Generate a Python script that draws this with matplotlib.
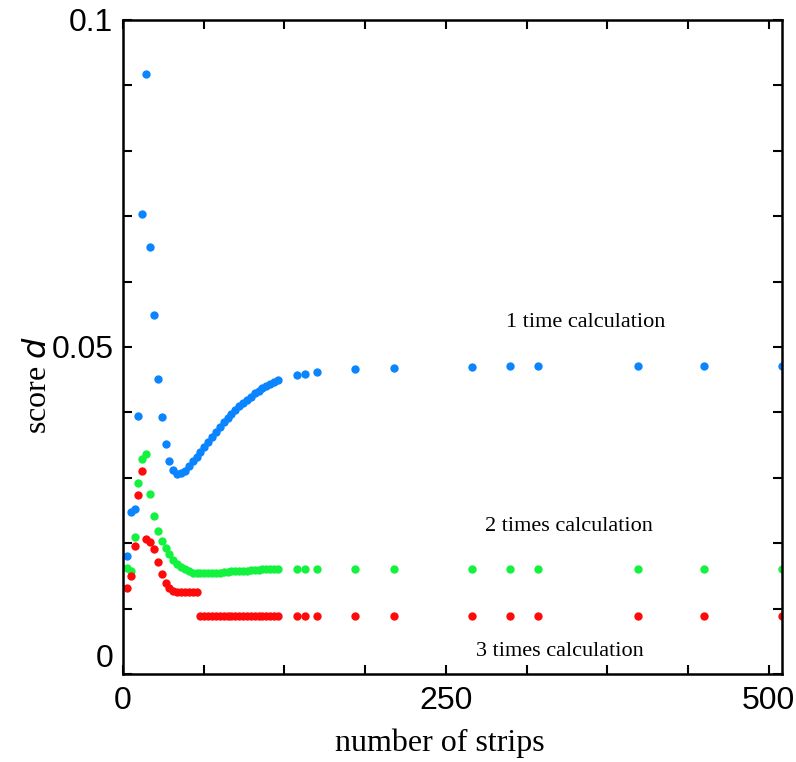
import numpy as np
import matplotlib.pyplot as plt
from matplotlib.ticker import MultipleLocator, FixedLocator

# number of strips (same grid for all three runs)
strips = [3, 6, 9, 12, 15, 18, 21, 24, 27, 30, 33, 36, 39, 42, 45, 48, 51, 54, 57,
          60, 63, 66, 69, 72, 75, 78, 81, 84, 87, 90, 93, 96, 99, 102, 105, 108,
          111, 114, 117, 120, 135, 141, 150, 180, 210, 270, 300, 321, 399, 450, 510]

# score d, 1 time calculation
d_once = [0.0180, 0.0248, 0.0252, 0.0394, 0.0704, 0.0917, 0.0653, 0.0549, 0.0451,
          0.0393, 0.0351, 0.0326, 0.0312, 0.0306, 0.0307, 0.0311, 0.0318, 0.0325,
          0.0332, 0.0339, 0.0347, 0.0355, 0.0363, 0.0370, 0.0378, 0.0385, 0.0392,
          0.0398, 0.0404, 0.0410, 0.0415, 0.0419, 0.0424, 0.0429, 0.0433, 0.0437,
          0.0441, 0.0444, 0.0447, 0.0450, 0.0457, 0.0459, 0.0462, 0.0466, 0.0468,
          0.0470, 0.0471, 0.0471, 0.0471, 0.0471, 0.0471]

# score d, 2 times calculation
d_twice = [0.0162, 0.0158, 0.0210, 0.0292, 0.0328, 0.0337, 0.0275, 0.0241, 0.0219,
           0.0203, 0.0192, 0.0183, 0.0175, 0.0168, 0.0163, 0.0160, 0.0157, 0.0155,
           0.0154, 0.0154, 0.0154, 0.0154, 0.0154, 0.0155, 0.0155, 0.0156, 0.0156,
           0.0157, 0.0157, 0.0158, 0.0158, 0.0158, 0.0159, 0.0159, 0.0159, 0.0160,
           0.0160, 0.0160, 0.0160, 0.0160, 0.0161, 0.0161, 0.0161, 0.0161, 0.0161,
           0.0161, 0.0161, 0.0161, 0.0161, 0.0161, 0.0161]

# score d, 3 times calculation
d_three = [0.0132, 0.0150, 0.0195, 0.0274, 0.0311, 0.0206, 0.0202, 0.0191, 0.0171,
           0.0153, 0.0139, 0.0131, 0.0127, 0.0126, 0.0126, 0.0126, 0.0126, 0.0126,
           0.0126, 0.0088, 0.0088, 0.0088, 0.0088, 0.0088, 0.0088, 0.0088, 0.0088,
           0.0088, 0.0088, 0.0088, 0.0088, 0.0088, 0.0088, 0.0088, 0.0088, 0.0088,
           0.0088, 0.0088, 0.0088, 0.0088, 0.0088, 0.0088, 0.0088, 0.0088, 0.0088,
           0.0088, 0.0088, 0.0088, 0.0088, 0.0088, 0.0088]

fig = plt.figure(figsize=(7.96, 7.62), dpi=100)
ax = fig.add_axes([0.1545, 0.1155, 0.8275, 0.8583])

ax.plot(strips, d_once, 'o', color='#0a84ff', ms=6, mec='none')
ax.plot(strips, d_twice, 'o', color='#12f23e', ms=6, mec='none')
ax.plot(strips, d_three, 'o', color='#ff0a0a', ms=6, mec='none')

ax.set_xlim(0, 510)
ax.set_ylim(0, 0.1)

ax.xaxis.set_major_locator(FixedLocator([0, 250, 500]))
ax.xaxis.set_minor_locator(MultipleLocator(62.5))
ax.yaxis.set_major_locator(FixedLocator([0, 0.05, 0.1]))
ax.yaxis.set_minor_locator(MultipleLocator(0.01))
ax.set_xticklabels(['0', '250', '500'])
ax.set_yticklabels(['0', '0.05', '0.1'])

ax.tick_params(which='both', direction='in', top=True, right=True,
               length=6.5, width=1.5, labelsize=23, pad=7)
ax.tick_params(axis='x', pad=9)
for lab in ax.get_xticklabels() + ax.get_yticklabels():
    lab.set_family('Liberation Sans')
ax.get_yticklabels()[0].set_va('bottom')

for sp in ax.spines.values():
    sp.set_linewidth(1.8)

ax.set_xlabel('number of strips', family='Liberation Serif', fontsize=23)
ax.set_ylabel('score $\\it{d}$', family='Liberation Serif', fontsize=23)
ax.xaxis.set_label_coords(0.481, -0.083)
ax.yaxis.set_label_coords(-0.106, 0.442)

ax.text(358, 0.0538, '1 time calculation', family='Liberation Serif', fontsize=16,
        ha='center', va='center')
ax.text(345, 0.0225, '2 times calculation', family='Liberation Serif', fontsize=16,
        ha='center', va='center')
ax.text(338, 0.0035, '3 times calculation', family='Liberation Serif', fontsize=16,
        ha='center', va='center')

fig.savefig('out.png', dpi=100)
